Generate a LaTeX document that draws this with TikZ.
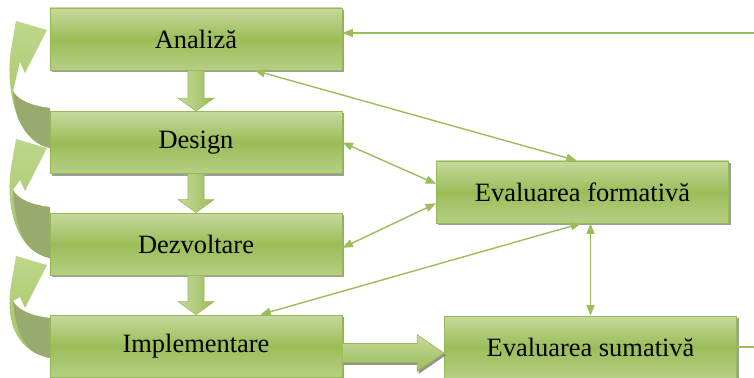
\documentclass[tikz,border=0pt]{standalone}
\usepackage{fontspec}
\setmainfont{Liberation Serif}
\usetikzlibrary{arrows.meta,calc,shadows}

\definecolor{boxtop}{RGB}{198,217,158}
\definecolor{boxmid}{RGB}{155,189,88}
\definecolor{boxbot}{RGB}{182,207,132}
\definecolor{boxline}{RGB}{150,184,86}
\definecolor{linegreen}{RGB}{155,190,90}
\definecolor{ribbonlight}{RGB}{190,215,140}
\definecolor{ribbon}{RGB}{160,195,98}
\definecolor{ribbonback}{RGB}{152,170,110}

\tikzset{
  stage/.style={draw=boxline,line width=0.6pt,top color=boxtop,bottom color=boxbot,middle color=boxmid,
    minimum width=7.3cm,minimum height=1.55cm,inner sep=0pt,
    drop shadow={shadow xshift=0.05cm,shadow yshift=-0.05cm,opacity=0.55,fill=black!70},
    font=\fontsize{18.8}{22}\selectfont},
  conn/.style={draw=linegreen,line width=1pt},
  blockdown/.style={draw=boxline,line width=0.4pt,left color=boxtop,right color=boxmid},
  blockright/.style={draw=boxline,line width=0.4pt,top color=boxtop,bottom color=boxmid,
    drop shadow={shadow xshift=0.04cm,shadow yshift=-0.06cm,opacity=0.6,fill=black!70}},
  ribbonfill/.style={top color=ribbonlight,bottom color=ribbon}
}

% thick arrow from one stage down to the next
\newcommand\stagedown[2]{%
  \draw[blockdown] ($(#1.south)+(-8,0)$) -- ($(#1.south)+(8,0)$) -- ($(#2.north)+(8,-13)$)
    -- ($(#2.north)+(18,-13)$) -- (#2.north) -- ($(#2.north)+(-18,-13)$) -- ($(#2.north)+(-8,-13)$) -- cycle;}

\begin{document}
\begin{tikzpicture}[x=0.025cm,y=-0.025cm,>={Triangle[length=0.26cm,width=0.2cm]}]
  \useasboundingbox (0,0) rectangle (754,377);

  % curved return arrows on the left
  \foreach \tipy/\topy/\boty in {30/108/148,148/207/258,265/318/358}{
    \begin{scope}
      \path[ribbonfill,clip] (47,\tipy) -- (16,\tipy-9) -- (11,\tipy+20)
        .. controls (6,\tipy+50) and (12,\boty-8) .. (50,\boty) -- (50,\topy)
        .. controls (30,\topy-2) and (17,\topy-9) .. (13,\topy-17)
        -- (20,\tipy+32) -- (25,\tipy+43) -- cycle;
      \fill[ribbonback] (50,\topy) .. controls (30,\topy-2) and (17,\topy-9) .. (13,\topy-17)
        .. controls (16,\boty-22) and (28,\boty-3) .. (50,\boty+2) -- cycle;
    \end{scope}
  }

  \node[stage] (ana) at (196,39) {Analiză};
  \node[stage] (dsg) at (196,142.5) {Design};
  \node[stage] (dez) at (196,244) {Dezvoltare};
  \node[stage] (imp) at (196,346) {Implementare};
  \node[stage] (fmt) at (582.5,192) {Evaluarea formativă};
  \node[stage] (sum) at (590.5,347) {Evaluarea sumativă};

  \stagedown{ana}{dsg}
  \stagedown{dsg}{dez}
  \stagedown{dez}{imp}

  % thick arrow to the summative evaluation
  \coordinate (ra) at ($(imp.east)+(0,7)$);
  \coordinate (rb) at (sum.west |- ra);
  \draw[blockright] ($(ra)+(0,-9.5)$) -- ($(rb)+(-27,-9.5)$) -- ($(rb)+(-27,-18.5)$) -- (rb)
    -- ($(rb)+(-27,18.5)$) -- ($(rb)+(-27,9.5)$) -- ($(ra)+(0,9.5)$) -- cycle;

  \coordinate (edgeA) at (754,33);
  \coordinate (edgeS) at (754,347);
  \draw[conn,->] (edgeA) -- (edgeA -| ana.east);
  \draw[conn,<->] ($(ana.south west)!0.7!(ana.south east)$) -- ($(fmt.north west)!0.48!(fmt.north east)$);
  \draw[conn,<->] (dsg.east) -- ($(fmt.north west)!0.37!(fmt.south west)$);
  \draw[conn,<->] ($(dez.north east)!0.56!(dez.south east)$) -- ($(fmt.north west)!0.68!(fmt.south west)$);
  \draw[conn,<->] ($(imp.north west)!0.72!(imp.north east)$) -- ($(fmt.south west)!0.495!(fmt.south east)$);
  \draw[conn,<->] (sum.north |- fmt.south) -- (sum.north);
  \draw[conn] (sum.east) -- (edgeS);
\end{tikzpicture}
\end{document}
